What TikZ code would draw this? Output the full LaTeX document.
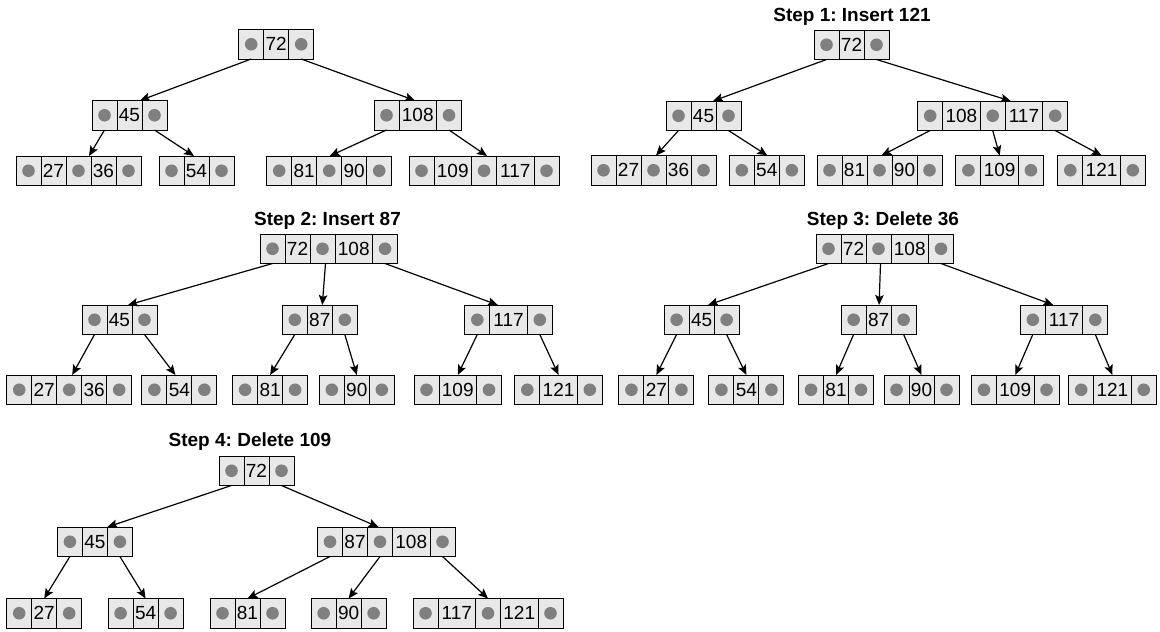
\documentclass[tikz,border=0pt]{standalone}
\usepackage{fontspec}
\setmainfont{Liberation Sans}
\usetikzlibrary{arrows.meta}
\frenchspacing
\definecolor{cellfill}{HTML}{E8E8E8}
\definecolor{dotgray}{HTML}{808080}
\tikzset{
  cell/.style={draw=black, line width=1pt, fill=cellfill, minimum height=29.5pt,
    inner sep=0pt, outer sep=0pt, anchor=north west, font=\fontsize{19}{20}\selectfont},
  edge/.style={draw=black, line width=1.2pt, -{Stealth[length=10pt,width=8.5pt,inset=2pt]}},
  steptitle/.style={font=\bfseries\fontsize{19}{22}\selectfont, anchor=base, inner sep=0pt},
}
\newcommand\btnode[4]{%
  \gdef\bx{#2}%
  \foreach \c [count=\i] in {#4}{%
    \pgfmathsetmacro\w{\c==0 ? 25 : (\c>99 ? 37.5 : 25)}%
    \ifnum\c=0
      \node[cell, minimum width=\w pt] (#1-\i) at (\bx,#3) {};
      \fill[dotgray] (#1-\i.center) circle (6.3pt);
    \else
      \node[cell, minimum width=\w pt] (#1-\i) at (\bx,#3) {\c};
    \fi
    \pgfmathsetmacro\nbx{\bx+\w}\xdef\bx{\nbx}%
  }%
}
\begin{document}
\begin{tikzpicture}[x=1pt,y=-1pt]
\useasboundingbox (0,0) rectangle (1160,632);
% ---------- Tree 0 ----------
\btnode{t0r}{238.7}{29.5}{0,72,0}
\btnode{t0a}{92}{100.5}{0,45,0}
\btnode{t0b}{374}{100.5}{0,108,0}
\btnode{t0c}{16}{156}{0,27,0,36,0}
\btnode{t0d}{159}{156}{0,54,0}
\btnode{t0e}{266.7}{156}{0,81,0,90,0}
\btnode{t0f}{409}{156}{0,109,0,117,0}
\draw[edge] (t0r-1.south) -- ([xshift=48pt]t0a-1.north west);
\draw[edge] (t0r-3.south) -- ([xshift=41pt]t0b-1.north west);
\draw[edge] (t0a-1.south) -- ([xshift=73pt]t0c-1.north west);
\draw[edge] (t0a-3.south) -- ([xshift=35pt]t0d-1.north west);
\draw[edge] (t0b-1.south) -- ([xshift=63pt]t0e-1.north west);
\draw[edge] (t0b-3.south) -- ([xshift=78pt]t0f-1.north west);
% ---------- Tree 1 ----------
\node[steptitle] (ttl1) at (852,21.5) {Step 1: Insert 121};
\btnode{t1r}{814}{30}{0,72,0}
\btnode{t1a}{666}{101}{0,45,0}
\btnode{t1b}{917.7}{101}{0,108,0,117,0}
\btnode{t1c}{591}{155.5}{0,27,0,36,0}
\btnode{t1d}{729.3}{155.5}{0,54,0}
\btnode{t1e}{817}{155.5}{0,81,0,90,0}
\btnode{t1f}{955.9}{155.5}{0,109,0}
\btnode{t1g}{1057.8}{155.5}{0,121,0}
\draw[edge] (t1r-1.south) -- ([xshift=47pt]t1a-1.north west);
\draw[edge] (t1r-3.south) -- ([xshift=93pt]t1b-1.north west);
\draw[edge] (t1a-1.south) -- ([xshift=65pt]t1c-1.north west);
\draw[edge] (t1a-3.south) -- ([xshift=38pt]t1d-1.north west);
\draw[edge] (t1b-1.south) -- ([xshift=64.5pt]t1e-1.north west);
\draw[edge] (t1b-3.south) -- (t1f-2.north);
\draw[edge] (t1b-5.south) -- (t1g-2.north);
% ---------- Tree 2 ----------
\node[steptitle] (ttl2) at (327.5,225) {Step 2: Insert 87};
\btnode{t2r}{260}{234}{0,72,0,108,0}
\btnode{t2a}{82}{305}{0,45,0}
\btnode{t2b}{282.3}{305}{0,87,0}
\btnode{t2c}{464.8}{305}{0,117,0}
\btnode{t2d}{6.7}{375}{0,27,0,36,0}
\btnode{t2e}{141.9}{375}{0,54,0}
\btnode{t2f}{232.6}{375}{0,81,0}
\btnode{t2g}{319.3}{375}{0,90,0}
\btnode{t2h}{414}{375}{0,109,0}
\btnode{t2i}{514.8}{375}{0,121,0}
\draw[edge] (t2r-1.south) -- ([xshift=46pt]t2a-1.north west);
\draw[edge] ([xshift=3pt]t2r-3.south) -- ([xshift=40pt]t2b-1.north west);
\draw[edge] (t2r-5.south) -- ([xshift=33pt]t2c-1.north west);
\draw[edge] (t2a-1.south) -- ([xshift=3pt]t2d-3.north);
\draw[edge] (t2a-3.south) -- ([xshift=-4pt]t2e-2.north);
\draw[edge] (t2b-1.south) -- (t2f-2.north);
\draw[edge] (t2b-3.south) -- (t2g-2.north);
\draw[edge] (t2c-1.south) -- (t2h-2.north);
\draw[edge] (t2c-3.south) -- (t2i-2.north);
% ---------- Tree 3 ----------
\node[steptitle] (ttl3) at (883,225) {Step 3: Delete 36};
\btnode{t3r}{816}{234}{0,72,0,108,0}
\btnode{t3a}{664.1}{305}{0,45,0}
\btnode{t3b}{841.1}{305}{0,87,0}
\btnode{t3c}{1020.3}{305}{0,117,0}
\btnode{t3d}{618.9}{375}{0,27,0}
\btnode{t3e}{708.9}{375}{0,54,0}
\btnode{t3f}{798.5}{375}{0,81,0}
\btnode{t3g}{884}{375}{0,90,0}
\btnode{t3h}{971.5}{375}{0,109,0}
\btnode{t3i}{1068.7}{375}{0,121,0}
\draw[edge] (t3r-1.south) -- ([xshift=44pt]t3a-1.north west);
\draw[edge] ([xshift=2pt]t3r-3.south) -- ([xshift=38pt]t3b-1.north west);
\draw[edge] (t3r-5.south) -- ([xshift=33pt]t3c-1.north west);
\draw[edge] (t3a-1.south) -- (t3d-2.north);
\draw[edge] (t3a-3.south) -- (t3e-2.north);
\draw[edge] (t3b-1.south) -- (t3f-2.north);
\draw[edge] (t3b-3.south) -- (t3g-2.north);
\draw[edge] (t3c-1.south) -- (t3h-2.north);
\draw[edge] (t3c-3.south) -- (t3i-2.north);
% ---------- Tree 4 ----------
\node[steptitle] (ttl4) at (250,446) {Step 4: Delete 109};
\btnode{t4r}{219}{456}{0,72,0}
\btnode{t4a}{57.4}{527}{0,45,0}
\btnode{t4b}{317.5}{527}{0,87,0,108,0}
\btnode{t4c}{6.7}{598.5}{0,27,0}
\btnode{t4d}{108.1}{598.5}{0,54,0}
\btnode{t4e}{210}{598.5}{0,81,0}
\btnode{t4f}{311.1}{598.5}{0,90,0}
\btnode{t4g}{413}{598.5}{0,117,0,121,0}
\draw[edge] (t4r-1.south) -- ([xshift=50pt]t4a-1.north west);
\draw[edge] (t4r-3.south) -- ([xshift=61pt]t4b-1.north west);
\draw[edge] (t4a-1.south) -- (t4c-2.north);
\draw[edge] (t4a-3.south) -- (t4d-2.north);
\draw[edge] (t4b-1.south) -- (t4e-2.north);
\draw[edge] (t4b-3.south) -- (t4f-2.north);
\draw[edge] (t4b-5.south) -- (t4g-3.north);
\end{tikzpicture}
\end{document}
